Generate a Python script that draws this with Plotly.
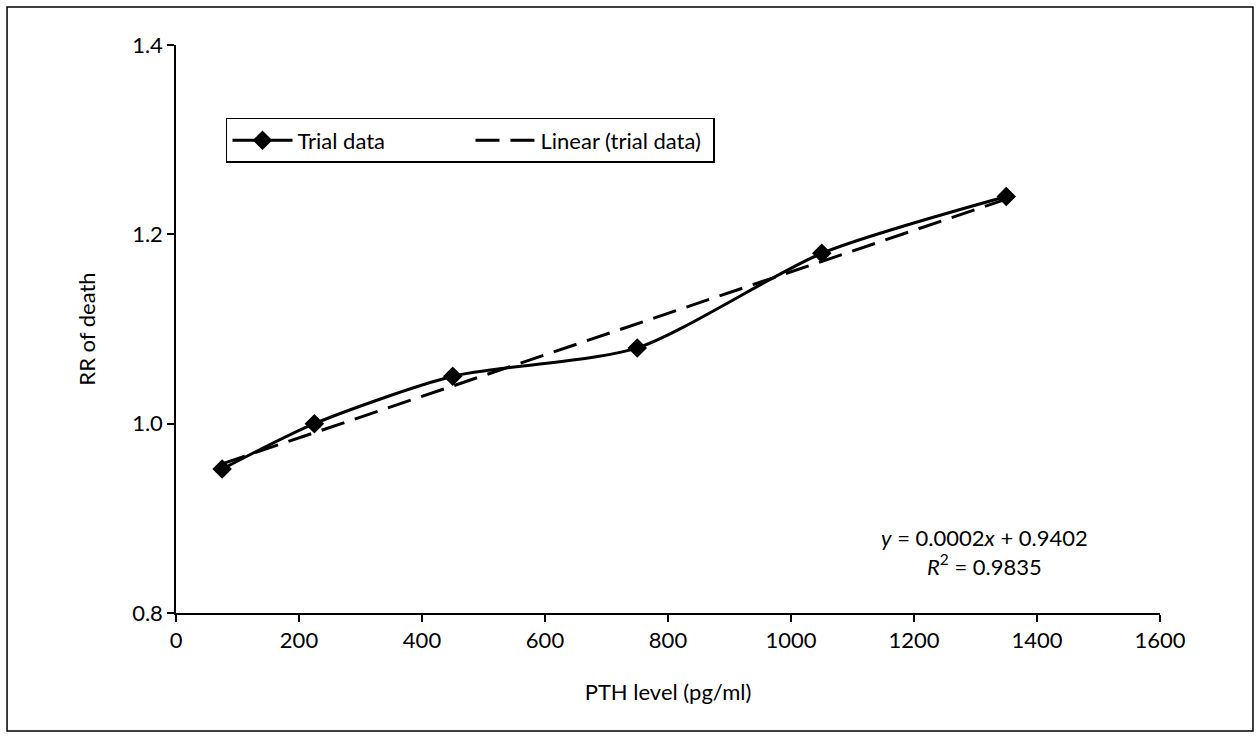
import numpy as np
import plotly.graph_objects as go

pth = [75, 225, 450, 750, 1050, 1350]
rr = [0.952, 1.0, 1.05, 1.08, 1.18, 1.24]
x_ticks = [0, 200, 400, 600, 800, 1000, 1200, 1400, 1600]
y_ticks = [0.8, 1.0, 1.2, 1.4]
y_tick_text = ["0.8", "1.0", "1.2", "1.4"]

slope, intercept = np.polyfit(pth, rr, 1)
trend_x = [pth[0], pth[-1]]
trend_y = [slope * v + intercept for v in trend_x]

FONT = "Lato, 'Open Sans', sans-serif"
FS = 22

fig = go.Figure()
fig.add_trace(go.Scatter(
    x=pth, y=rr, mode="lines+markers", name="Trial data",
    line=dict(color="black", width=3, shape="spline", smoothing=0.7),
    marker=dict(symbol="diamond", size=15, color="black"),
))
fig.add_trace(go.Scatter(
    x=trend_x, y=trend_y, mode="lines", name="Linear (trial data)",
    line=dict(color="black", width=3, dash="24px,11px"),
))

fig.update_layout(
    width=1260, height=738,
    margin=dict(l=176, r=100, t=45, b=125),
    paper_bgcolor="white", plot_bgcolor="white",
    font=dict(family=FONT, size=FS, color="black"),
    showlegend=True,
    legend=dict(
        orientation="h", x=0.0508, y=0.832, xanchor="left", yanchor="middle",
        bordercolor="black", borderwidth=1.5, bgcolor="white",
        font=dict(size=FS, family=FONT), itemwidth=60, entrywidth=168,
    ),
    xaxis=dict(
        range=[0, 1600], tickvals=x_ticks, ticks="outside", ticklen=7,
        tickwidth=1.5, tickcolor="black", showline=True, linecolor="black",
        linewidth=1.5, showgrid=False, zeroline=False,
        tickfont=dict(size=FS),
        title=dict(text="PTH level (pg/ml)", font=dict(size=FS), standoff=32),
    ),
    yaxis=dict(
        range=[0.8, 1.4], tickvals=y_ticks, ticktext=y_tick_text,
        ticks="outside", ticklen=7, tickwidth=1.5, tickcolor="black",
        showline=True, linecolor="black", linewidth=1.5, showgrid=False,
        zeroline=False, tickfont=dict(size=FS),
        title=dict(text="RR of death", font=dict(size=FS), standoff=30),
    ),
    shapes=[dict(
        type="rect", xref="paper", yref="paper",
        x0=-0.1717, x1=1.0945, y0=-0.2077, y1=1.0669,
        line=dict(color="black", width=1.5), layer="below",
    )],
    annotations=[dict(
        xref="paper", yref="paper", x=0.822, y=0.107,
        xanchor="center", yanchor="middle", showarrow=False,
        text="<i>y</i> = 0.0002<i>x</i> + 0.9402<br><i>R</i><sup>2</sup> = 0.9835",
        font=dict(size=FS, family=FONT), align="center",
    )],
)

fig.write_html("out.html")
